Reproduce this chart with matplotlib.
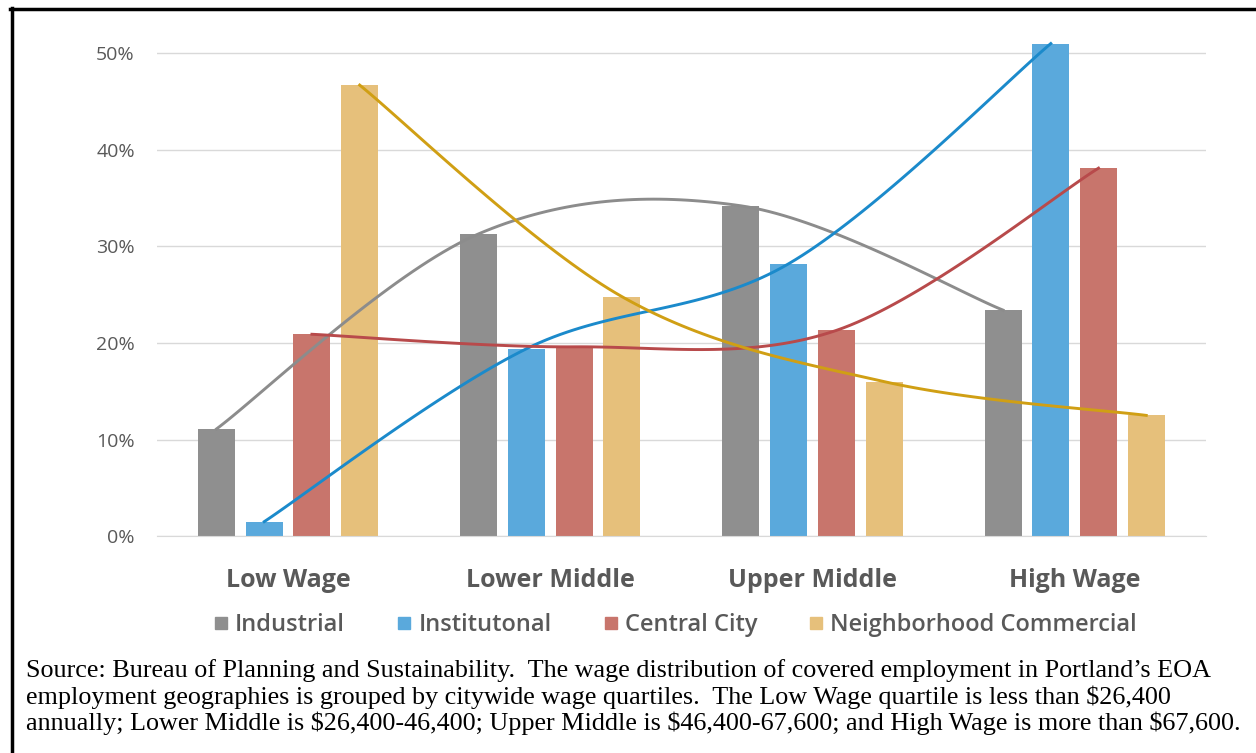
import numpy as np
import matplotlib.pyplot as plt
from matplotlib.lines import Line2D

categories = ['Low Wage', 'Lower Middle', 'Upper Middle', 'High Wage']
series = ['Industrial', 'Institutonal', 'Central City', 'Neighborhood Commercial']
industrial = [11.1, 31.3, 34.2, 23.4]
institutional = [1.5, 19.4, 28.2, 51.0]
central_city = [20.9, 19.6, 21.3, 38.1]
neighborhood = [46.7, 24.8, 16.0, 12.5]
yticks = [0, 10, 20, 30, 40, 50]

source_lines = [
    "Source: Bureau of Planning and Sustainability.  The wage distribution of covered employment in Portland\u2019s EOA",
    "employment geographies is grouped by citywide wage quartiles.  The Low Wage quartile is less than $26,400",
    "annually; Lower Middle is $26,400-46,400; Upper Middle is $46,400-67,600; and High Wage is more than $67,600.",
]

bar_colors = ['#8f8f8f', '#5aa9dc', '#c8756c', '#e6c07b']
line_colors = ['#8c8c8c', '#1b8acb', '#b84a4b', '#d09f14']


def smooth(xs, ys, n=40):
    # excel-like smoothed line: bezier segments with catmull-rom control points
    xs = np.asarray(xs, float)
    ys = np.asarray(ys, float)
    px = np.concatenate([[xs[0]], xs, [xs[-1]]])
    py = np.concatenate([[ys[0]], ys, [ys[-1]]])
    outx, outy = [], []
    t = np.linspace(0, 1, n)
    for i in range(1, len(px) - 2):
        p0 = np.array([px[i], py[i]])
        p3 = np.array([px[i + 1], py[i + 1]])
        c1 = p0 + (np.array([px[i + 1], py[i + 1]]) - np.array([px[i - 1], py[i - 1]])) / 6
        c2 = p3 - (np.array([px[i + 2], py[i + 2]]) - np.array([px[i], py[i]])) / 6
        b = ((1 - t) ** 3)[:, None] * p0 + (3 * (1 - t) ** 2 * t)[:, None] * c1 \
            + (3 * (1 - t) * t ** 2)[:, None] * c2 + (t ** 3)[:, None] * p3
        outx.extend(b[:, 0])
        outy.extend(b[:, 1])
    return outx, outy


fig = plt.figure(figsize=(12.56, 7.53), dpi=100)
ax = fig.add_axes([0.125, 0.288, 0.835, 0.667])

x = np.arange(len(categories))
width = 0.141
slot = 0.182
offsets = [-1.5 * slot, -0.5 * slot, 0.5 * slot, 1.5 * slot]
data = [industrial, institutional, central_city, neighborhood]

for vals, off, bc in zip(data, offsets, bar_colors):
    ax.bar(x + off, vals, width=width, color=bc, zorder=2)
for vals, off, lc in zip(data, offsets, line_colors):
    sx, sy = smooth(x + off, vals)
    ax.plot(sx, sy, color=lc, lw=2.1, zorder=3)

ax.set_xlim(-0.5, 3.5)
ax.set_ylim(0, 52)
ax.set_yticks(yticks)
ax.set_yticklabels([f'{v}%' for v in yticks], fontsize=14, color='#595959', family='Open Sans')
ax.set_xticks(x)
ax.set_xticklabels(categories, fontsize=18, color='#595959', family='Open Sans', fontweight='bold')
ax.tick_params(axis='both', length=0)
ax.tick_params(axis='y', pad=16)
ax.tick_params(axis='x', pad=23)
ax.grid(axis='y', color='#d9d9d9', lw=1.0, zorder=0)
for s in ['top', 'right', 'left']:
    ax.spines[s].set_visible(False)
ax.spines['bottom'].set_color('#d9d9d9')

handles = [Line2D([], [], marker='s', ls='', color=c, markersize=8) for c in bar_colors]
fig.legend(handles, series, loc='center', bbox_to_anchor=(0.536, 0.170), ncol=4, frameon=False,
           prop={'family': 'Open Sans', 'size': 17, 'weight': 'semibold'}, labelcolor='#595959',
           handletextpad=0.1, columnspacing=2.0, handlelength=1.0)

baselines = [677, 704, 730]
for line, yb in zip(source_lines, baselines):
    fig.text(26 / 1256, 1 - yb / 753, line, ha='left', va='baseline', family='Liberation Serif',
             fontsize=18.8, color='black')

# left and top border of the boxed figure
fig.add_artist(Line2D([0.0095, 0.0095], [0, 0.99], color='black', lw=2.5, transform=fig.transFigure))
fig.add_artist(Line2D([0.008, 1.0], [0.9885, 0.9885], color='black', lw=2.5, transform=fig.transFigure))

fig.savefig('out.png', dpi=100)
